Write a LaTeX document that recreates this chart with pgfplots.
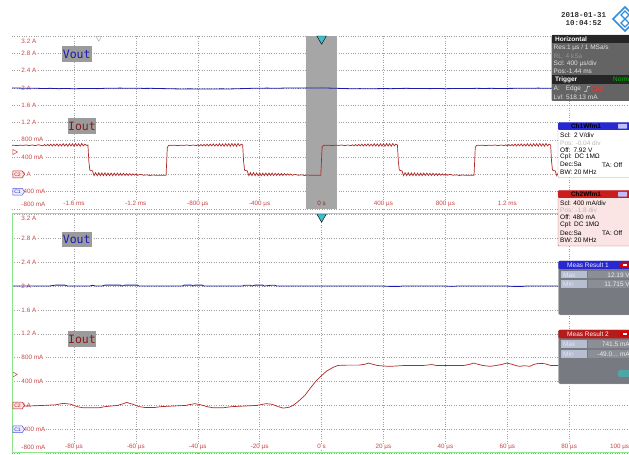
\documentclass[border=0pt]{standalone}
\usepackage{pgfplots}
\pgfplotsset{compat=1.18}
\usepackage{fontspec}
\setmainfont{Liberation Sans}
\newfontfamily\monofont{DejaVu Sans Mono}
\newfontfamily\datefont{Liberation Mono}
\usetikzlibrary{shapes.symbols,shapes.geometric}

\definecolor{tickred}{RGB}{200,70,70}
\definecolor{darkred}{RGB}{150,40,40}
\definecolor{ioutred}{RGB}{176,40,40}
\definecolor{voutblue}{RGB}{28,28,170}
\definecolor{bandgray}{RGB}{166,166,166}
\definecolor{gridgray}{RGB}{160,160,160}
\definecolor{trigcyan}{RGB}{64,190,200}
\definecolor{labelbox}{RGB}{155,155,155}
\definecolor{ioutlbl}{RGB}{140,25,25}
\definecolor{voutlbl}{RGB}{25,25,180}
\definecolor{hpbody}{RGB}{100,100,100}
\definecolor{hphead}{RGB}{38,38,38}
\definecolor{hptext}{RGB}{225,225,225}
\definecolor{hpdim}{RGB}{150,150,150}
\definecolor{ch1blue}{RGB}{40,40,210}
\definecolor{ch2red}{RGB}{200,30,30}
\definecolor{ch2body}{RGB}{250,228,228}
\definecolor{measbody}{RGB}{120,122,130}
\definecolor{measlbl}{RGB}{182,190,208}
\definecolor{measval}{RGB}{140,142,150}
\definecolor{selgreen}{RGB}{140,230,140}
\definecolor{logoblue}{RGB}{50,140,220}

\newcommand{\tf}{\fontsize{6.3}{7}\selectfont}
\newcommand{\pf}{\fontsize{6.5}{7}\selectfont}
\newcommand{\pfb}{\fontsize{6.5}{7}\selectfont\bfseries}

\pgfplotsset{scopestyle/.style={
  scale only axis, width=619pt,
  ymin=-0.8, ymax=3.2,
  axis line style={draw=none},
  tick style={draw=none},
  major tick length=0pt,
  grid=major,
  major grid style={gridgray, dotted, line width=0.55pt},
  ytick={-0.8,-0.4,0,0.4,0.8,1.2,1.6,2,2.4,2.8,3.2},
  tick label style={font=\tf, text=tickred, fill=white, inner sep=0.6pt},
  yticklabel style={anchor=base west, xshift=8.6pt, yshift=-2.2pt},
  clip=false,
}}

\tikzset{ptxt/.style={anchor=west, inner sep=0pt, font=\pf}}

\begin{document}
\begin{tikzpicture}
\path[use as bounding box] (0pt,0pt) rectangle (629pt,455pt);

% ---------------- top panel ----------------
\begin{axis}[scopestyle, at={(12.1pt,246pt)}, anchor=south west, height=173pt,
  xmin=-2, xmax=2,
  xtick={-1.6,-1.2,-0.8,-0.4,0.4,0.8,1.2,1.6},
  xticklabels={-1.6 ms,-1.2 ms,-800 µs,-400 µs,400 µs,800 µs,1.2 ms,{}},
  xticklabel style={anchor=base, yshift=3pt},
  yticklabels={\raisebox{5pt}{-800 mA},-400 mA,0 A,400 mA,800 mA,1.2 A,1.6 A,2 A,2.4 A,2.8 A,\raisebox{-5.7pt}{3.2 A}},
]
\addplot[fill=bandgray, draw=none, mark=none] coordinates {(-0.1,-0.8) (0.1,-0.8) (0.1,3.2) (-0.1,3.2)};
% Vout
\addplot[voutblue, line width=0.8pt, mark=none] coordinates {
(-2.00,2.000) (-1.95,1.995) (-1.90,1.990) (-1.85,1.993) (-1.80,1.985) (-1.75,1.990) (-1.70,1.982) (-1.65,1.987) (-1.60,1.980) (-1.55,1.985) (-1.50,1.988) (-1.45,1.983) (-1.40,1.990) (-1.35,1.992) (-1.30,1.995) (-1.25,1.990) (-1.20,1.993) (-1.15,1.988) (-1.10,1.990) (-1.05,1.985) (-1.00,1.982) (-0.95,1.978) (-0.90,1.975) (-0.85,1.978) (-0.80,1.972) (-0.75,1.976) (-0.70,1.973) (-0.65,1.978) (-0.60,1.975) (-0.55,1.980) (-0.50,1.985) (-0.45,1.990) (-0.40,1.992) (-0.35,1.995) (-0.30,1.990) (-0.25,1.995) (-0.20,1.998) (-0.15,1.995) (-0.10,2.000) (-0.05,1.997) (0.00,2.000) (0.05,1.995) (0.10,1.990) (0.15,1.985) (0.20,1.980) (0.25,1.983) (0.30,1.978) (0.35,1.982) (0.40,1.985) (0.45,1.982) (0.50,1.987) (0.55,1.990) (0.60,1.985) (0.65,1.988) (0.70,1.983) (0.75,1.987) (0.80,1.982) (0.85,1.985) (0.90,1.988) (0.95,1.985) (1.00,1.990) (1.05,1.987) (1.10,1.990) (1.15,1.985) (1.20,1.988) (1.25,1.990) (1.30,1.993) (1.35,1.990) (1.40,1.995) (1.45,1.990) (1.50,1.993) (1.55,1.990) (1.60,1.995) (1.70,1.992) (1.80,1.995) (2.00,1.995)
};
% Iout
\addplot[ioutred, line width=0.7pt, mark=none] coordinates {
(-2.00,0.67) (-1.99,0.675) (-1.97,0.665) (-1.95,0.675) (-1.93,0.67) (-1.91,0.68) (-1.89,0.665) (-1.87,0.68) (-1.85,0.665) (-1.83,0.685)
(-1.80,0.66) (-1.79,0.69) (-1.78,0.66) (-1.77,0.695) (-1.76,0.66) (-1.75,0.70) (-1.74,0.655) (-1.73,0.70) (-1.72,0.66) (-1.71,0.705) (-1.70,0.655) (-1.69,0.70) (-1.68,0.655) (-1.67,0.71) (-1.66,0.655) (-1.65,0.705) (-1.64,0.65) (-1.63,0.71) (-1.62,0.655) (-1.61,0.71) (-1.60,0.65) (-1.59,0.715) (-1.58,0.655) (-1.57,0.71) (-1.56,0.65) (-1.55,0.715) (-1.54,0.66) (-1.53,0.70) (-1.52,0.67)
(-1.510,0.68) (-1.504,0.30) (-1.498,0.10) (-1.490,0.09) (-1.480,0.08) (-1.475,0.02)
(-1.47,-0.03) (-1.46,0.04) (-1.45,-0.03) (-1.44,0.04) (-1.43,-0.03) (-1.42,0.035) (-1.41,-0.03) (-1.40,0.035) (-1.39,-0.03) (-1.38,0.03) (-1.37,-0.03) (-1.36,0.03) (-1.35,-0.03) (-1.34,0.03) (-1.33,-0.025) (-1.32,0.03) (-1.31,-0.025) (-1.30,0.025) (-1.29,-0.025) (-1.28,0.025) (-1.27,-0.025) (-1.26,0.02) (-1.25,-0.025) (-1.24,0.02) (-1.23,-0.02) (-1.22,0.015) (-1.21,-0.02) (-1.20,0.01) (-1.19,-0.02) (-1.17,0.0) (-1.15,-0.02) (-1.13,-0.01) (-1.11,-0.025) (-1.09,-0.015) (-1.07,-0.02) (-1.05,-0.02) (-1.03,-0.02) (-1.005,-0.02)
(-0.997,0.62) (-0.99,0.665)
(-0.98,0.675) (-0.97,0.67) (-0.95,0.675) (-0.93,0.665) (-0.91,0.675) (-0.89,0.67) (-0.87,0.68) (-0.85,0.665) (-0.83,0.68) (-0.81,0.665) (-0.80,0.685) (-0.79,0.66) (-0.78,0.69) (-0.77,0.66) (-0.76,0.695) (-0.75,0.66) (-0.74,0.70) (-0.73,0.655) (-0.72,0.70) (-0.71,0.66) (-0.70,0.705) (-0.69,0.655) (-0.68,0.70) (-0.67,0.655) (-0.66,0.71) (-0.65,0.655) (-0.64,0.705) (-0.63,0.65) (-0.62,0.71) (-0.61,0.655) (-0.60,0.71) (-0.59,0.65) (-0.58,0.715) (-0.57,0.655) (-0.56,0.71) (-0.55,0.65) (-0.54,0.715) (-0.53,0.66) (-0.52,0.70)
(-0.510,0.68) (-0.504,0.30) (-0.498,0.10) (-0.490,0.09) (-0.480,0.08) (-0.475,0.02)
(-0.47,-0.03) (-0.46,0.04) (-0.45,-0.03) (-0.44,0.04) (-0.43,-0.03) (-0.42,0.035) (-0.41,-0.03) (-0.40,0.035) (-0.39,-0.03) (-0.38,0.03) (-0.37,-0.03) (-0.36,0.03) (-0.35,-0.03) (-0.34,0.03) (-0.33,-0.025) (-0.32,0.03) (-0.31,-0.025) (-0.30,0.025) (-0.29,-0.025) (-0.28,0.025) (-0.27,-0.025) (-0.26,0.02) (-0.25,-0.025) (-0.24,0.02) (-0.23,-0.02) (-0.22,0.015) (-0.21,-0.02) (-0.20,0.01) (-0.19,-0.02) (-0.17,0.0) (-0.15,-0.02) (-0.13,-0.01) (-0.11,-0.025) (-0.09,-0.015) (-0.07,-0.02) (-0.05,-0.02) (-0.03,-0.02) (-0.005,-0.02)
(0.003,0.62) (0.01,0.665)
(0.02,0.675) (0.03,0.67) (0.05,0.675) (0.07,0.665) (0.09,0.675) (0.11,0.67) (0.13,0.68) (0.15,0.665) (0.17,0.68) (0.19,0.665) (0.20,0.685) (0.21,0.66) (0.22,0.69) (0.23,0.66) (0.24,0.695) (0.25,0.66) (0.26,0.70) (0.27,0.655) (0.28,0.70) (0.29,0.66) (0.30,0.705) (0.31,0.655) (0.32,0.70) (0.33,0.655) (0.34,0.71) (0.35,0.655) (0.36,0.705) (0.37,0.65) (0.38,0.71) (0.39,0.655) (0.40,0.71) (0.41,0.65) (0.42,0.715) (0.43,0.655) (0.44,0.71) (0.45,0.65) (0.46,0.715) (0.47,0.66) (0.48,0.70)
(0.490,0.68) (0.496,0.30) (0.502,0.10) (0.510,0.09) (0.520,0.08) (0.525,0.02)
(0.53,-0.03) (0.54,0.04) (0.55,-0.03) (0.56,0.04) (0.57,-0.03) (0.58,0.035) (0.59,-0.03) (0.60,0.035) (0.61,-0.03) (0.62,0.03) (0.63,-0.03) (0.64,0.03) (0.65,-0.03) (0.66,0.03) (0.67,-0.025) (0.68,0.03) (0.69,-0.025) (0.70,0.025) (0.71,-0.025) (0.72,0.025) (0.73,-0.025) (0.74,0.02) (0.75,-0.025) (0.76,0.02) (0.77,-0.02) (0.78,0.015) (0.79,-0.02) (0.80,0.01) (0.81,-0.02) (0.83,0.0) (0.85,-0.02) (0.87,-0.01) (0.89,-0.025) (0.91,-0.015) (0.93,-0.02) (0.95,-0.02) (0.97,-0.02) (0.985,-0.02)
(0.993,0.62) (1.00,0.665)
(1.01,0.675) (1.02,0.67) (1.04,0.675) (1.06,0.665) (1.08,0.675) (1.10,0.67) (1.12,0.68) (1.14,0.665) (1.16,0.68) (1.18,0.665) (1.19,0.685) (1.20,0.66) (1.21,0.69) (1.22,0.66) (1.23,0.695) (1.24,0.66) (1.25,0.70) (1.26,0.655) (1.27,0.70) (1.28,0.66) (1.29,0.705) (1.30,0.655) (1.31,0.70) (1.32,0.655) (1.33,0.71) (1.34,0.655) (1.35,0.705) (1.36,0.65) (1.37,0.71) (1.38,0.655) (1.39,0.71) (1.40,0.65) (1.41,0.715) (1.42,0.655) (1.43,0.71) (1.44,0.65) (1.45,0.715) (1.46,0.66) (1.47,0.70)
(1.480,0.68) (1.486,0.30) (1.492,0.10) (1.500,0.09) (1.510,0.08) (1.515,0.02)
(1.52,-0.03) (1.53,0.04) (1.54,-0.03) (1.55,0.04) (1.56,-0.03) (1.57,0.035) (1.58,-0.03) (1.60,0.0) (1.70,-0.02) (2.00,-0.02)
};
% markers
\addplot[only marks, mark=triangle*, mark size=5.5pt, mark options={rotate=180, fill=trigcyan, draw=none}] coordinates {(0,3.136)};
\addplot[only marks, mark=triangle, mark size=3pt, mark options={rotate=180, draw=gray!60, line width=0.5pt}] coordinates {(-1.44,3.15)};
\addplot[only marks, mark=triangle, mark size=3pt, mark options={rotate=-90, draw=tickred, line width=0.5pt}] coordinates {(-1.985,0.518)};
\node[anchor=base, text=darkred, font=\tf, inner sep=0.6pt] at ([yshift=3pt]axis cs:0,-0.8) {0 s};
\coordinate (tC2) at (axis cs:-2,0);
\coordinate (tC1) at (axis cs:-2,-0.4);
\end{axis}

% ---------------- bottom panel ----------------
\begin{axis}[scopestyle, at={(12.1pt,1.8pt)}, anchor=south west, height=238.8pt,
  xmin=-100, xmax=100,
  xtick={-80,-60,-40,-20,0,20,40,60,80,100},
  xticklabels={-80 µs,-60 µs,-40 µs,-20 µs,0 s,20 µs,40 µs,60 µs,80 µs,\makebox[0pt][r]{100 µs\hspace{2pt}}},
  xticklabel style={anchor=base, yshift=4.6pt},
  yticklabels={\raisebox{5.9pt}{-800 mA},-400 mA,0 A,400 mA,800 mA,1.2 A,1.6 A,2 A,2.4 A,2.8 A,\raisebox{-3.6pt}{3.2 A}},
]
% Vout
\addplot[voutblue, line width=0.8pt, mark=none] coordinates {
(-100,2.0) (-88,2.0) (-86,2.015) (-83,2.015) (-82,2.0) (-75,2.0) (-74,2.012) (-73,2.0) (-71,2.0) (-70,2.015) (-65,2.015) (-64.5,2.0) (-63.5,2.015) (-59.5,2.015) (-59,2.0) (-45,2.0) (-44.5,2.015) (-42,2.015) (-41.5,2.0) (-41,2.015) (-38.6,2.015) (-38,2.0) (-25.5,2.0) (-25,2.012) (-23,2.012) (-22.5,2.0) (-21.5,2.015) (-19,2.015) (-18.5,2.0) (-16.6,2.012) (-15,2.012) (-14.5,2.0) (20,2.0) (22,1.994) (25,1.994) (26,2.0) (40,2.0) (42,1.994) (44,2.0) (60,2.0) (62,1.994) (65,1.994) (66,2.0) (100,2.0)
};
% Iout
\addplot[ioutred, line width=0.7pt, mark=none] coordinates {
(-100,-0.01) (-95,-0.01) (-90,0.0) (-86,0.01) (-83.5,0.035) (-81,0.02) (-79,-0.02) (-77,-0.04) (-72,-0.04) (-70,-0.02) (-66,0.0) (-64,0.03) (-63,0.05) (-61,0.02) (-59,-0.02) (-57,-0.035) (-54,-0.035) (-52,-0.02) (-48,-0.01) (-44,0.0) (-41,0.03) (-39,0.01) (-37,-0.02) (-35,-0.04) (-32,-0.04) (-29,-0.02) (-25,-0.01) (-21,0.0) (-18,0.03) (-16,0.02) (-14,-0.02) (-12.4,-0.045) (-10.5,-0.03) (-9.2,0.0) (-7.5,0.07) (-5.4,0.168) (-3.8,0.28) (-2.1,0.39) (-0.8,0.46) (0,0.50) (1.6,0.575) (3.8,0.64) (5.3,0.67) (8,0.675) (12,0.675) (14,0.69) (15.1,0.71) (16.5,0.69) (18,0.67) (20,0.66) (22,0.655) (24,0.66) (27,0.67) (33,0.67) (35.6,0.685) (37,0.67) (46,0.67) (48,0.69) (49,0.71) (50.5,0.69) (52,0.67) (54.4,0.655) (56.5,0.67) (58.5,0.69) (59.8,0.71) (61.5,0.69) (63,0.665) (64,0.655) (65.5,0.665) (67.3,0.655) (68.5,0.685) (70,0.705) (72,0.70) (74,0.67) (80,0.665) (85,0.67) (100,0.67)
};
\addplot[only marks, mark=triangle*, mark size=5.5pt, mark options={rotate=180, fill=trigcyan, draw=none}] coordinates {(0,3.16)};
\addplot[only marks, mark=triangle, mark size=3pt, mark options={rotate=-90, draw=tickred, line width=0.5pt}] coordinates {(-99.3,0.518)};
\coordinate (bC2) at (axis cs:-100,0);
\coordinate (bC1) at (axis cs:-100,-0.4);
\end{axis}

% selected diagram frame
\draw[selgreen, line width=0.9pt] (12.1pt,2.6pt) rectangle (640pt,241.5pt);

% channel badges
\foreach \c in {tC2,bC2}{
  \node[signal, signal to=east, signal pointer angle=110, draw=ioutred, fill=red!12, text=ioutred,
        font=\fontsize{5}{5}\selectfont, inner xsep=1.4pt, inner ysep=0.6pt, minimum height=6.8pt,
        anchor=west, line width=0.5pt] at ([xshift=0.6pt]\c) {C2};}
\foreach \c in {tC1,bC1}{
  \node[signal, signal to=east, signal pointer angle=110, draw=ch1blue!80, fill=blue!8, text=ch1blue,
        font=\fontsize{5}{5}\selectfont, inner xsep=1.4pt, inner ysep=0.6pt, minimum height=6.8pt,
        anchor=west, line width=0.5pt] at ([xshift=0.6pt]\c) {C1};}

% trace labels
\node[fill=labelbox, text=voutlbl, font=\monofont\fontsize{11.5}{12}\selectfont, inner sep=0.5pt, minimum width=30pt, minimum height=15.5pt] at (76.7pt,401pt) {Vout};
\node[fill=labelbox, text=ioutlbl, font=\monofont\fontsize{11.5}{12}\selectfont, inner sep=0.5pt, minimum width=26.6pt, minimum height=16pt] at (82pt,329pt) {Iout};
\node[fill=labelbox, text=voutlbl, font=\monofont\fontsize{11.5}{12}\selectfont, inner sep=0.5pt, minimum width=30pt, minimum height=15.5pt] at (76.7pt,215.5pt) {Vout};
\node[fill=labelbox, text=ioutlbl, font=\monofont\fontsize{11.5}{12}\selectfont, inner sep=0.5pt, minimum width=26.6pt, minimum height=16pt] at (82pt,116pt) {Iout};

% date and logo
\node[font=\datefont\bfseries\fontsize{7.5}{8}\selectfont, text=black!80, inner sep=0pt] at (583.7pt,440pt) {2018-01-31};
\node[font=\datefont\bfseries\fontsize{7.5}{8}\selectfont, text=black!80, inner sep=0pt] at (583.7pt,432pt) {10:04:52};
\draw[logoblue, line width=1.6pt] (625pt,448pt) -- (637pt,436pt) -- (625pt,424pt) -- (613pt,436pt) -- cycle;
\draw[logoblue, line width=1.2pt] (621pt,440pt) -- (625pt,444pt) -- (629pt,440pt) -- (625pt,436pt) -- cycle;
\draw[logoblue, line width=1.2pt] (621pt,432pt) -- (625pt,436pt) -- (629pt,432pt) -- (625pt,428pt) -- cycle;

% Horizontal panel
\fill[hpbody, rounded corners=1pt] (551.5pt,354pt) rectangle (634pt,420pt);
\fill[hphead] (551.5pt,412pt) rectangle (634pt,420pt);
\fill[hphead] (551.5pt,371pt) rectangle (634pt,379.5pt);
\node[ptxt, font=\pfb, text=white] at (555pt,416pt) {Horizontal};
\node[ptxt, text=hptext] at (553.5pt,407.3pt) {Res:1 µs / 1 MSa/s};
\node[ptxt, text=hpdim] at (553.5pt,399.3pt) {RL: 4 kSa};
\node[ptxt, text=hptext] at (553.5pt,391.6pt) {Scl: 400 µs/div};
\node[ptxt, text=hptext] at (553.5pt,383.3pt) {Pos:-1.44 ms};
\node[ptxt, font=\pfb, text=white] at (555pt,375.2pt) {Trigger};
\node[ptxt, text=green!75!black] at (613pt,375.2pt) {Norm};
\node[ptxt, text=hptext] at (553.5pt,366pt) {A:\hspace{6pt}Edge};
\draw[hptext, line width=0.5pt] (584pt,363.5pt) -- (586.5pt,363.5pt) -- (587.5pt,368.5pt) -- (590pt,368.5pt);
\node[ptxt, text=red!80!white] at (591pt,366pt) {Ch2};
\node[ptxt, text=hptext] at (553.5pt,358pt) {Lvl: 518.13 mA};

% Ch1 panel
\filldraw[fill=white, draw=gray!70, rounded corners=1pt] (558pt,277.5pt) rectangle (634pt,332.5pt);
\fill[ch1blue, rounded corners=1pt] (558pt,325pt) rectangle (634pt,332.5pt);
\node[inner sep=0pt, font=\pfb, text=black] at (586pt,328.7pt) {Ch1Wfm1};
\fill[blue!25!white, rounded corners=0.5pt] (618pt,326.3pt) rectangle (627pt,331pt);
\node[ptxt] at (560pt,320pt) {Scl:\hspace{3pt}2 V/div};
\node[ptxt, text=gray!55] at (560pt,312.3pt) {Pos: -0.04 div};
\node[ptxt] at (560pt,305pt) {Off:\hspace{3pt}7.92 V};
\node[ptxt] at (560pt,297.7pt) {Cpl:\hspace{3pt}DC 1MΩ};
\node[ptxt] at (560pt,290.3pt) {Dec:Sa};
\node[ptxt] at (602pt,290.3pt) {TA: Off};
\node[ptxt] at (560pt,283pt) {BW: 20 MHz};

% Ch2 panel
\filldraw[fill=ch2body, draw=ch2red!70, rounded corners=1pt] (558pt,209pt) rectangle (634pt,264.5pt);
\fill[ch2red, rounded corners=1pt] (558pt,257pt) rectangle (634pt,264.5pt);
\node[inner sep=0pt, font=\pfb, text=black] at (586pt,260.7pt) {Ch2Wfm1};
\fill[blue!25!white, rounded corners=0.5pt] (618pt,258.3pt) rectangle (627pt,263pt);
\node[ptxt] at (560pt,252.3pt) {Scl: 400 mA/div};
\node[ptxt, text=gray!55] at (560pt,245.3pt) {Pos: -1.8 div};
\node[ptxt] at (560pt,237.5pt) {Off: 480 mA};
\node[ptxt] at (560pt,229.7pt) {Cpl: DC 1MΩ};
\node[ptxt] at (560pt,221.7pt) {Dec:Sa};
\node[ptxt] at (602pt,221.7pt) {TA: Off};
\node[ptxt] at (560pt,214.3pt) {BW: 20 MHz};

% Meas Result 1
\filldraw[fill=measbody, draw=gray!50, rounded corners=1.5pt] (558.3pt,140pt) rectangle (634pt,194pt);
\fill[ch1blue, rounded corners=1pt] (558.3pt,186pt) rectangle (634pt,194pt);
\node[inner sep=0pt, font=\pf, text=blue!8] at (588pt,190pt) {Meas Result 1};
\fill[red!85!black, rounded corners=1pt] (620pt,187.5pt) rectangle (629.5pt,192.5pt);
\fill[white] (622.5pt,189pt) rectangle (627pt,191pt);
\fill[measlbl] (561pt,176.5pt) rectangle (587pt,184pt);
\fill[measval] (588pt,176.5pt) rectangle (634pt,184pt);
\fill[measlbl] (561pt,167pt) rectangle (587pt,174.5pt);
\fill[measval] (588pt,167pt) rectangle (634pt,174.5pt);
\node[ptxt, text=white!90!blue] at (563pt,180.2pt) {Max};
\node[ptxt, text=white!90!blue] at (563pt,170.7pt) {Min};
\node[inner sep=0pt, anchor=east, font=\pf, text=white!92!black] at (630pt,180.2pt) {12.19 V};
\node[inner sep=0pt, anchor=east, font=\pf, text=white!92!black] at (630pt,170.7pt) {11.715 V};

% Meas Result 2
\filldraw[fill=measbody, draw=gray!50, rounded corners=1.5pt] (558.3pt,71pt) rectangle (634pt,125pt);
\fill[ch2red!90!black, rounded corners=1pt] (558.3pt,116.7pt) rectangle (634pt,125pt);
\node[inner sep=0pt, font=\pf, text=red!5] at (588pt,120.8pt) {Meas Result 2};
\fill[red!85!black, rounded corners=1pt] (620pt,118.3pt) rectangle (629.5pt,123.3pt);
\fill[white] (622.5pt,119.8pt) rectangle (627pt,121.8pt);
\fill[measlbl] (561pt,107pt) rectangle (587pt,114.5pt);
\fill[measval] (588pt,107pt) rectangle (634pt,114.5pt);
\fill[measlbl] (561pt,97pt) rectangle (587pt,104.5pt);
\fill[measval] (588pt,97pt) rectangle (634pt,104.5pt);
\node[ptxt, text=white!90!blue] at (563pt,110.7pt) {Max};
\node[ptxt, text=white!90!blue] at (563pt,100.7pt) {Min};
\node[inner sep=0pt, anchor=east, font=\pf, text=white!92!black] at (630pt,110.7pt) {741.5 mA};
\node[inner sep=0pt, anchor=east, font=\pf, text=white!92!black] at (630pt,100.7pt) {-49.0... mA};
\fill[teal!70!white, rounded corners=2pt] (618pt,78pt) rectangle (634pt,85pt);
\end{tikzpicture}
\end{document}
